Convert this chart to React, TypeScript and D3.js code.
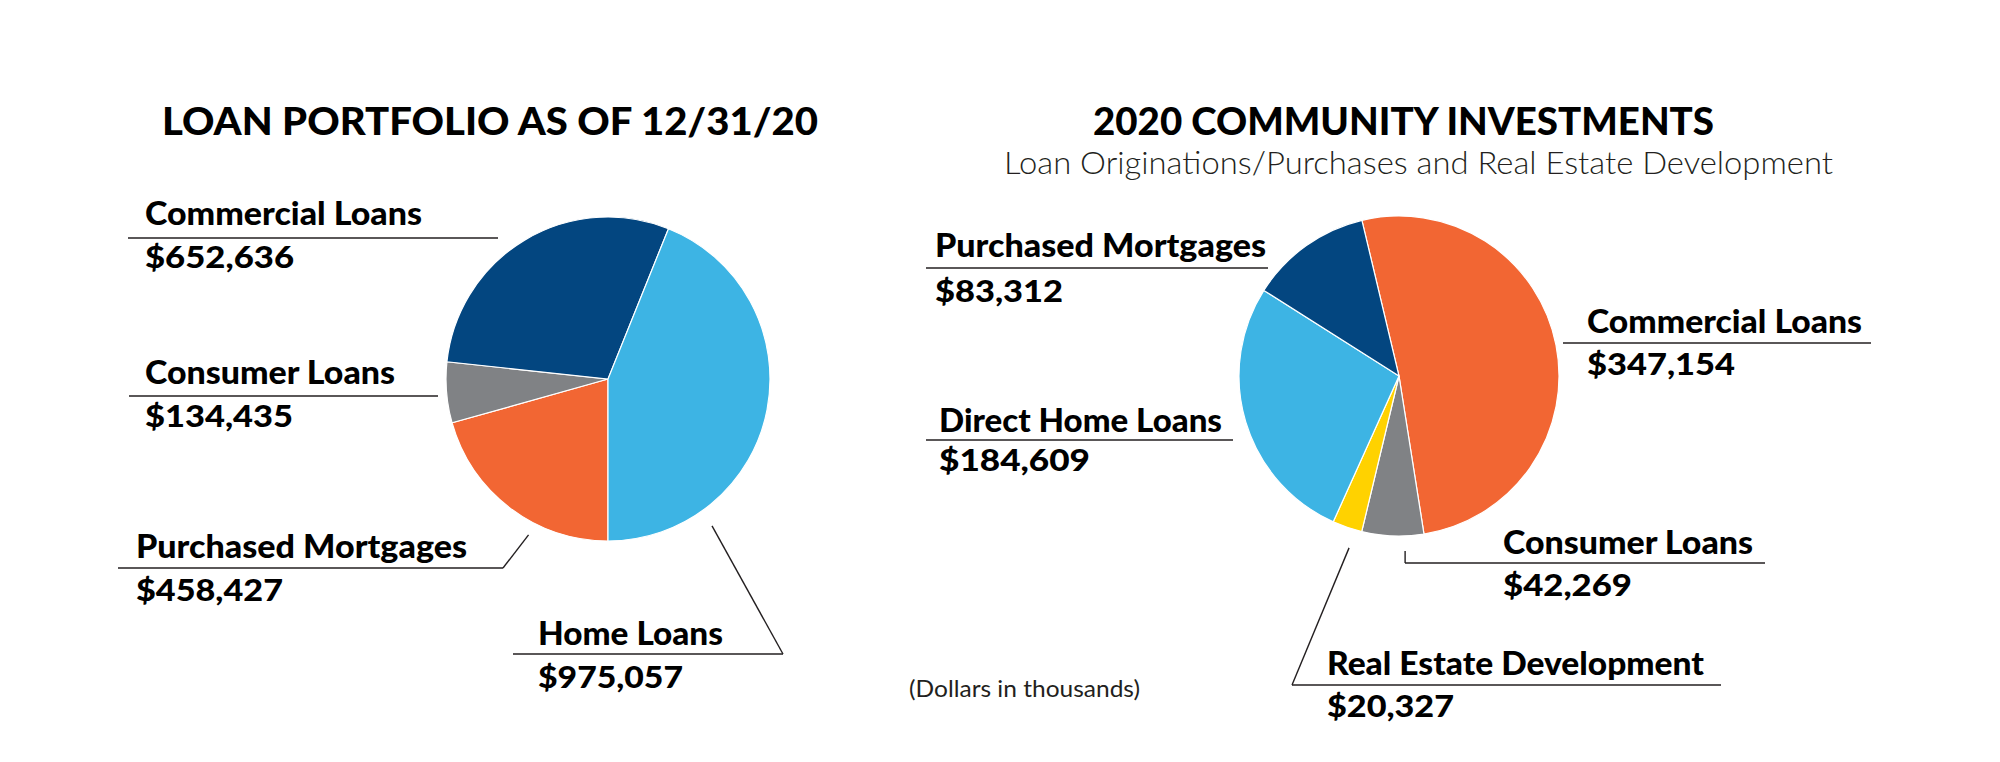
import React from "react";
import * as d3 from "d3";

// ---------- DATA ----------
const portfolioCategories = ["Purchased Mortgages", "Consumer Loans", "Commercial Loans", "Home Loans"];
const portfolioValues = [458427, 134435, 652636, 975057];

const investCategories = ["Commercial Loans", "Consumer Loans", "Real Estate Development", "Direct Home Loans", "Purchased Mortgages"];
const investValues = [347154, 42269, 20327, 184609, 83312];

const portfolioTitle = "LOAN PORTFOLIO AS OF 12/31/20";
const investTitle = "2020 COMMUNITY INVESTMENTS";
const investSubtitle = "Loan Originations/Purchases and Real Estate Development";
const footnote = "(Dollars in thousands)";

// ---------- STYLE / LAYOUT ----------
const COLORS: Record<string, string> = {
  "Purchased Mortgages": "#f26633",
  "Consumer Loans": "#808285",
  "Commercial Loans": "#034680",
  "Home Loans": "#3db4e4",
};
const COLORS_R: Record<string, string> = {
  "Commercial Loans": "#f26633",
  "Consumer Loans": "#808285",
  "Real Estate Development": "#ffd200",
  "Direct Home Loans": "#3db4e4",
  "Purchased Mortgages": "#034680",
};

const FONT = "Lato, 'Open Sans', 'DejaVu Sans', sans-serif";
const LINE = "#231f20";

type LabelLayout = {
  x: number;
  y: number;
  w: number;
  vy: number;
  vw: number;
  lineY: number;
  lineX0: number;
  lineX1: number;
  leader?: { from: "start" | "end"; angle: number; r: number; vertical?: boolean };
};

const leftLayout: Record<string, LabelLayout> = {
  "Commercial Loans": { x: 145, y: 225, w: 277, vy: 268, vw: 149, lineY: 238, lineX0: 128, lineX1: 498 },
  "Consumer Loans": { x: 145, y: 384, w: 250, vy: 427, vw: 148, lineY: 396, lineX0: 129, lineX1: 438 },
  "Purchased Mortgages": {
    x: 136, y: 558, w: 331, vy: 601, vw: 147, lineY: 568, lineX0: 118, lineX1: 503,
    leader: { from: "end", angle: 207, r: 175 },
  },
  "Home Loans": {
    x: 538, y: 645, w: 185, vy: 688, vw: 145, lineY: 654, lineX0: 513, lineX1: 783,
    leader: { from: "end", angle: 144.7, r: 180 },
  },
};

const rightLayout: Record<string, LabelLayout> = {
  "Purchased Mortgages": { x: 935, y: 257, w: 331, vy: 302, vw: 128, lineY: 268, lineX0: 926, lineX1: 1268 },
  "Commercial Loans": { x: 1587, y: 333, w: 275, vy: 375, vw: 148, lineY: 343, lineX0: 1563, lineX1: 1871 },
  "Direct Home Loans": { x: 939, y: 432, w: 283, vy: 471, vw: 151, lineY: 440, lineX0: 926, lineX1: 1233 },
  "Consumer Loans": {
    x: 1503, y: 554, w: 250, vy: 596, vw: 129, lineY: 563, lineX0: 1405, lineX1: 1765,
    leader: { from: "start", angle: 178, r: 175, vertical: true },
  },
  "Real Estate Development": {
    x: 1327, y: 675, w: 377, vy: 717, vw: 127, lineY: 685, lineX0: 1292, lineX1: 1721,
    leader: { from: "start", angle: 196.2, r: 179 },
  },
};

const fmt = (v: number) => "$" + d3.format(",")(v);

function polar(cx: number, cy: number, angleDeg: number, r: number) {
  const a = (angleDeg * Math.PI) / 180;
  return [cx + r * Math.sin(a), cy - r * Math.cos(a)];
}

function Pie({
  cats, vals, colors, cx, cy, r, startDeg, layout,
}: {
  cats: string[]; vals: number[]; colors: Record<string, string>;
  cx: number; cy: number; r: number; startDeg: number; layout: Record<string, LabelLayout>;
}) {
  const data = cats.map((c, i) => ({ c, v: vals[i] }));
  const start = (startDeg * Math.PI) / 180;
  const pie = d3.pie<{ c: string; v: number }>().value((d) => d.v).sort(null).startAngle(start).endAngle(start + 2 * Math.PI);
  const arc = d3.arc<d3.PieArcDatum<{ c: string; v: number }>>().innerRadius(0).outerRadius(r);
  const arcs = pie(data);
  return (
    <g>
      <g transform={`translate(${cx},${cy})`}>
        {arcs.map((a) => (
          <path key={a.data.c} d={arc(a) || ""} fill={colors[a.data.c]} stroke="#ffffff" strokeWidth={1.2} />
        ))}
      </g>
      {cats.map((c, i) => {
        const L = layout[c];
        if (!L) return null;
        let leaderPath = "";
        if (L.leader) {
          const [px, py] = polar(cx, cy, L.leader.angle, L.leader.r);
          if (L.leader.vertical) {
            leaderPath = `M${px},${py}L${px},${L.lineY}`;
          } else {
            const ex = L.leader.from === "end" ? L.lineX1 : L.lineX0;
            leaderPath = `M${px},${py}L${ex},${L.lineY}`;
          }
        }
        return (
          <g key={c}>
            <line x1={L.lineX0} x2={L.lineX1} y1={L.lineY} y2={L.lineY} stroke={LINE} strokeWidth={1.6} />
            {leaderPath && <path d={leaderPath} stroke={LINE} strokeWidth={1.4} fill="none" />}
            <text x={L.x} y={L.y} fontFamily={FONT} fontWeight={900} fontSize={32}
              textLength={L.w} lengthAdjust="spacingAndGlyphs" fill="#000">{c}</text>
            <text x={L.x} y={L.vy} fontFamily={FONT} fontWeight={900} fontSize={31}
              textLength={L.vw} lengthAdjust="spacingAndGlyphs" fill="#000">{fmt(vals[i])}</text>
          </g>
        );
      })}
    </g>
  );
}

export default function App() {
  return (
    <svg width={2000} height={762} viewBox="0 0 2000 762"
      style={{ position: "absolute", left: 0, top: 0, background: "#ffffff", display: "block" }}>
      <rect x={0} y={0} width={2000} height={762} fill="#ffffff" />
      <text x={162} y={135} fontFamily={FONT} fontWeight={900} fontSize={38}
        textLength={656} lengthAdjust="spacingAndGlyphs" fill="#000">{portfolioTitle}</text>
      <text x={1093} y={135} fontFamily={FONT} fontWeight={900} fontSize={38}
        textLength={621} lengthAdjust="spacingAndGlyphs" fill="#000">{investTitle}</text>
      <text x={1004} y={174} fontFamily={FONT} fontWeight={300} fontSize={31}
        textLength={829} lengthAdjust="spacingAndGlyphs" fill="#231f20">{investSubtitle}</text>
      <text x={909} y={697} fontFamily={FONT} fontWeight={400} fontSize={23}
        textLength={231} lengthAdjust="spacingAndGlyphs" fill="#231f20">{footnote}</text>

      <Pie cats={portfolioCategories} vals={portfolioValues} colors={COLORS}
        cx={608} cy={379} r={162} startDeg={180} layout={leftLayout} />
      <Pie cats={investCategories} vals={investValues} colors={COLORS_R}
        cx={1399} cy={376} r={160} startDeg={-13.4} layout={rightLayout} />
    </svg>
  );
}
